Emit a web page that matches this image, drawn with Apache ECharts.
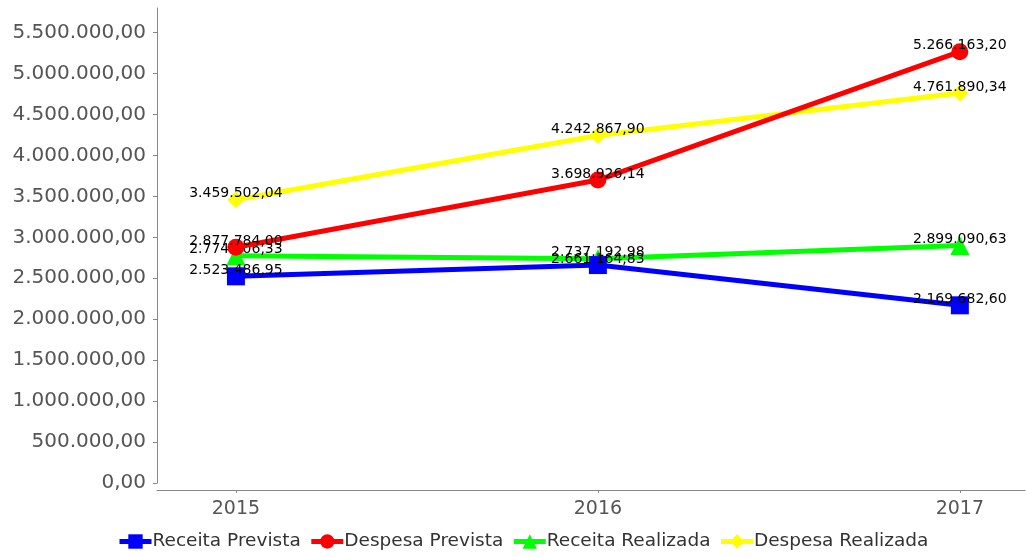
<!DOCTYPE html>
<html>
<head>
<meta charset="utf-8">
<script src="https://cdn.jsdelivr.net/npm/echarts@6/dist/echarts.min.js"></script>
<style>html,body{margin:0;padding:0;background:#fff}#c{width:1027px;height:557px}</style>
</head>
<body>
<div id="c"></div>
<script>
var categories = ['2015', '2016', '2017'];
var receitaPrevista = [2523486.95, 2661164.83, 2169682.60];
var despesaPrevista = [2877784.00, 3698926.14, 5266163.20];
var receitaRealizada = [2774306.33, 2737192.98, 2899090.63];
var despesaRealizada = [3459502.04, 4242867.90, 4761890.34];
var yTicks = [0, 500000, 1000000, 1500000, 2000000, 2500000, 3000000, 3500000, 4000000, 4500000, 5000000, 5500000];
var seriesNames = ['Receita Prevista', 'Despesa Prevista', 'Receita Realizada', 'Despesa Realizada'];

function fmt(v) {
  var s = Math.abs(v).toFixed(2).split('.');
  var ip = s[0].replace(/\B(?=(\d{3})+(?!\d))/g, '.');
  return (v < 0 ? '-' : '') + ip + ',' + s[1];
}
function pts(arr) { return arr.map(function (v, i) { return [i, v]; }); }

var FONT = 'DejaVu Sans';
var colors = ['#0000ff', '#ff0000', '#00ff00', '#ffff00'];
var symbols = ['rect', 'circle', 'triangle', 'diamond'];
var sizes = [18, 17, 19, 17];
var datas = [receitaPrevista, despesaPrevista, receitaRealizada, despesaRealizada];

var chart = echarts.init(document.getElementById('c'), null, {renderer: 'canvas'});
chart.setOption({
  backgroundColor: '#fff',
  animation: false,
  grid: {left: 157, right: 2, top: 8, bottom: 74, containLabel: false},
  legend: {
    bottom: 1, left: 112,
    itemWidth: 32, itemHeight: 18, itemGap: 8,
    lineStyle: {width: 5},
    textStyle: {fontFamily: FONT, fontSize: 18.5, color: '#333', padding: [0, 0, 0, -4]},
    data: seriesNames
  },
  xAxis: {
    type: 'value', min: -0.218, max: 2.18, offset: 7,
    splitLine: {show: false},
    axisLine: {show: true, onZero: false, lineStyle: {color: '#888', width: 1}},
    axisTick: {show: true, length: 3, lineStyle: {color: '#888'}, customValues: [0, 1, 2]},
    axisLabel: {
      customValues: [0, 1, 2], margin: 10,
      fontFamily: FONT, fontSize: 19, color: '#555',
      formatter: function (v) { return categories[Math.round(v)]; }
    }
  },
  yAxis: {
    type: 'value', min: 0, max: 5800000,
    splitLine: {show: false},
    axisLine: {show: true, onZero: false, lineStyle: {color: '#888', width: 1}},
    axisTick: {show: true, length: 4, lineStyle: {color: '#888'}, customValues: yTicks},
    axisLabel: {
      customValues: yTicks, margin: 11,
      fontFamily: FONT, fontSize: 20, color: '#555',
      formatter: function (v) { return fmt(v); }
    }
  },
  series: seriesNames.map(function (n, k) {
    return {
      name: n, type: 'line', data: pts(datas[k]),
      z: 10 - k,
      symbol: symbols[k], symbolSize: sizes[k],
      lineStyle: {color: colors[k], width: 5},
      itemStyle: {color: colors[k]},
      label: {
        show: true, position: 'inside', offset: [0, -6],
        fontFamily: FONT, fontSize: 14, color: '#000',
        formatter: function (p) { return fmt(p.value[1]); }
      },
      emphasis: {disabled: true}
    };
  })
});
</script>
</body>
</html>
